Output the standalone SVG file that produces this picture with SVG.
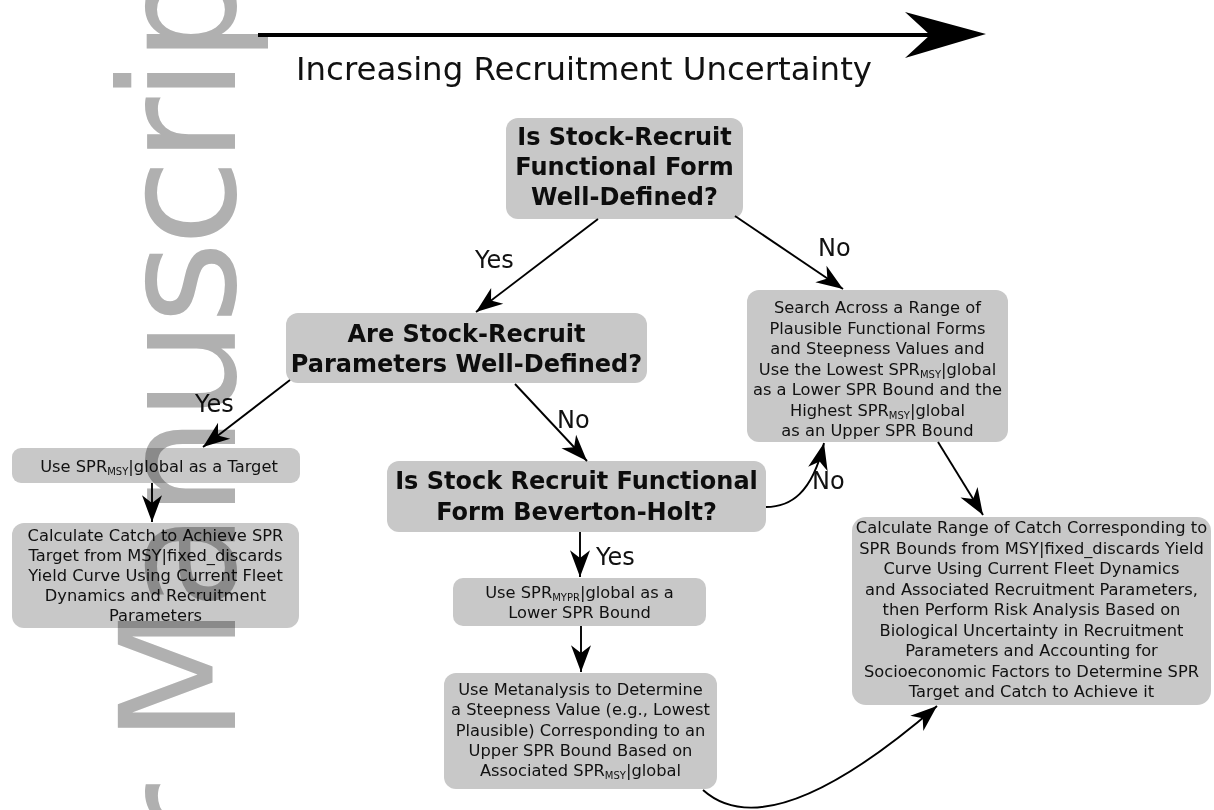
<svg xmlns="http://www.w3.org/2000/svg" width="1214" height="810" viewBox="0 0 1214 810">
<defs>
<marker id="ah" markerUnits="userSpaceOnUse" markerWidth="30" markerHeight="24" viewBox="-25 -10 27 20" refX="0" refY="0" orient="auto">
<path d="M0,0 L-24,-9 L-17,0 L-24,9 Z" fill="#000"/>
</marker>
<style>
.box{fill:#c8c8c8;}
.q{font-family:"DejaVu Sans","Verdana",sans-serif;font-weight:bold;font-size:24px;fill:#0d0d0d;text-anchor:middle;}
.t{font-family:"DejaVu Sans","Verdana",sans-serif;font-size:16.3px;fill:#111;text-anchor:middle;}
.lbl{font-family:"DejaVu Sans","Verdana",sans-serif;font-size:24px;fill:#111;}
.sub{font-size:10px;}
.c{fill:none;stroke:#000;stroke-width:1.9;marker-end:url(#ah);}
.wm{font-family:"DejaVu Sans",sans-serif;font-size:160px;fill:#b0b0b0;letter-spacing:-5px;mix-blend-mode:multiply;}
</style>
</defs>
<rect width="1214" height="810" fill="#fff"/>

<g id="uncertainty-axis">
<line x1="258" y1="35" x2="935" y2="35" stroke="#000" stroke-width="4"/>
<path d="M986,34 L905,12 L930,35 L905,58 Z" fill="#000"/>
<text x="296" y="80" font-family="DejaVu Sans, sans-serif" font-size="32" fill="#111" textLength="576" lengthAdjust="spacingAndGlyphs">Increasing Recruitment Uncertainty</text>
</g>

<g id="n-form-defined">
<rect class="box" x="506" y="118" width="237" height="101" rx="12"/>
<text class="q" x="624.5" y="145">Is Stock-Recruit</text>
<text class="q" x="624.5" y="175">Functional Form</text>
<text class="q" x="624.5" y="205">Well-Defined?</text>
</g>

<g id="n-params-defined">
<rect class="box" x="286" y="313" width="361" height="70" rx="12"/>
<text class="q" x="466.5" y="342">Are Stock-Recruit</text>
<text class="q" x="466.5" y="372">Parameters Well-Defined?</text>
</g>

<g id="n-search">
<rect class="box" x="747" y="290" width="261" height="152" rx="12"/>
<text class="t" x="877.5" y="313">Search Across a Range of</text>
<text class="t" x="877.5" y="333.5">Plausible Functional Forms</text>
<text class="t" x="877.5" y="354">and Steepness Values and</text>
<text class="t" x="877.5" y="374.5">Use the Lowest SPR<tspan class="sub" dy="3">MSY</tspan><tspan dy="-3">|global</tspan></text>
<text class="t" x="877.5" y="395">as a Lower SPR Bound and the</text>
<text class="t" x="877.5" y="415.5">Highest SPR<tspan class="sub" dy="3">MSY</tspan><tspan dy="-3">|global</tspan></text>
<text class="t" x="877.5" y="436">as an Upper SPR Bound</text>
</g>

<g id="n-target">
<rect class="box" x="12" y="448" width="288" height="35" rx="9"/>
<text class="t" x="159" y="472">Use SPR<tspan class="sub" dy="3">MSY</tspan><tspan dy="-3">|global as a Target</tspan></text>
</g>

<g id="n-catch-target">
<rect class="box" x="12" y="523" width="287" height="105" rx="12"/>
<text class="t" x="155.5" y="541">Calculate Catch to Achieve SPR</text>
<text class="t" x="155.5" y="561">Target from MSY|fixed_discards</text>
<text class="t" x="155.5" y="581">Yield Curve Using Current Fleet</text>
<text class="t" x="155.5" y="601">Dynamics and Recruitment</text>
<text class="t" x="155.5" y="621">Parameters</text>
</g>

<g id="n-bh">
<rect class="box" x="387" y="461" width="379" height="71" rx="12"/>
<text class="q" x="576.5" y="489">Is Stock Recruit Functional</text>
<text class="q" x="576.5" y="520">Form Beverton-Holt?</text>
</g>

<g id="n-mypr">
<rect class="box" x="453" y="578" width="253" height="48" rx="10"/>
<text class="t" x="579.5" y="598">Use SPR<tspan class="sub" dy="3">MYPR</tspan><tspan dy="-3">|global as a</tspan></text>
<text class="t" x="579.5" y="618">Lower SPR Bound</text>
</g>

<g id="n-meta">
<rect class="box" x="444" y="673" width="273" height="116" rx="12"/>
<text class="t" x="580.5" y="695">Use Metanalysis to Determine</text>
<text class="t" x="580.5" y="715">a Steepness Value (e.g., Lowest</text>
<text class="t" x="580.5" y="735.5">Plausible) Corresponding to an</text>
<text class="t" x="580.5" y="756">Upper SPR Bound Based on</text>
<text class="t" x="580.5" y="776">Associated SPR<tspan class="sub" dy="3">MSY</tspan><tspan dy="-3">|global</tspan></text>
</g>

<g id="n-range">
<rect class="box" x="852" y="517" width="359" height="188" rx="14"/>
<text class="t" x="1031.5" y="533">Calculate Range of Catch Corresponding to</text>
<text class="t" x="1031.5" y="553.5">SPR Bounds from MSY|fixed_discards Yield</text>
<text class="t" x="1031.5" y="574">Curve Using Current Fleet Dynamics</text>
<text class="t" x="1031.5" y="594.5">and Associated Recruitment Parameters,</text>
<text class="t" x="1031.5" y="615">then Perform Risk Analysis Based on</text>
<text class="t" x="1031.5" y="635.5">Biological Uncertainty in Recruitment</text>
<text class="t" x="1031.5" y="656">Parameters and Accounting for</text>
<text class="t" x="1031.5" y="676.5">Socioeconomic Factors to Determine SPR</text>
<text class="t" x="1031.5" y="697">Target and Catch to Achieve it</text>
</g>

<g id="connectors">
<path class="c" d="M598,219 L476,312"/>
<path class="c" d="M735,216 L843,289"/>
<path class="c" d="M290,380 L203,447"/>
<path class="c" d="M515,384 L587,461"/>
<path class="c" d="M152,483 L152,522"/>
<path class="c" d="M766,507 C790,507 812,494 824,443"/>
<path class="c" d="M580,532 L580,577"/>
<path class="c" d="M581,626 L581,672"/>
<path class="c" d="M938,442 L983,515"/>
<path class="c" d="M703,790 Q770,850 937,706"/>
<text class="lbl" x="475" y="268">Yes</text>
<text class="lbl" x="818" y="256">No</text>
<text class="lbl" x="195" y="412">Yes</text>
<text class="lbl" x="557" y="428">No</text>
<text class="lbl" x="812" y="489">No</text>
<text class="lbl" x="596" y="565">Yes</text>
</g>

<g id="watermark">
<text class="wm" transform="translate(235,1298) rotate(-90)">Author Manuscript</text>
</g>
</svg>
